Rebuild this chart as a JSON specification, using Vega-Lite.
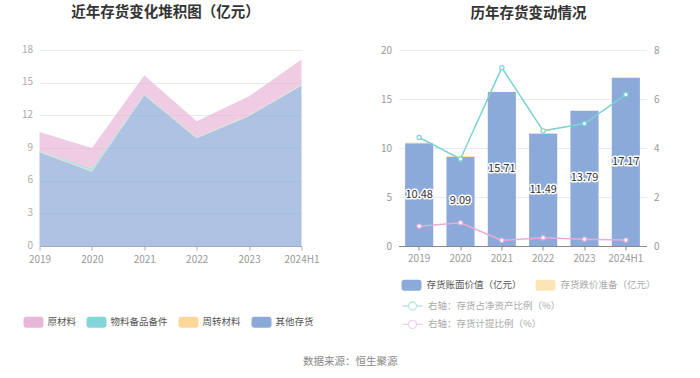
{
  "$schema": "https://vega.github.io/schema/vega-lite/v6.json",
  "background": "white",
  "padding": {"left": 20.5, "top": 4, "right": 5, "bottom": 4},
  "config": {
    "font": "Noto Sans CJK SC",
    "view": {"stroke": null},
    "axis": {"labelFont": "Noto Sans CJK SC", "labelFontSize": 10, "labelColor": "#999", "gridColor": "#e6ebf5", "domainColor": "#999", "tickColor": "#999", "title": null},
    "legend": {"labelFont": "Noto Sans CJK SC", "labelFontSize": 9.5, "labelColor": "#555", "padding": 0, "title": null},
    "title": {"font": "Noto Sans CJK SC", "fontSize": 14.5, "fontWeight": "bold", "color": "#333", "anchor": "middle", "offset": 24}
  },
  "datasets": {
    "stock": [
      {"year": "2019", "type": "原材料", "value": 1.78},
      {"year": "2019", "type": "物料备品备件", "value": 0.05},
      {"year": "2019", "type": "周转材料", "value": 0.05},
      {"year": "2019", "type": "其他存货", "value": 8.6},
      {"year": "2020", "type": "原材料", "value": 1.88},
      {"year": "2020", "type": "物料备品备件", "value": 0.22},
      {"year": "2020", "type": "周转材料", "value": 0.05},
      {"year": "2020", "type": "其他存货", "value": 6.85},
      {"year": "2021", "type": "原材料", "value": 1.72},
      {"year": "2021", "type": "物料备品备件", "value": 0.05},
      {"year": "2021", "type": "周转材料", "value": 0.05},
      {"year": "2021", "type": "其他存货", "value": 13.85},
      {"year": "2022", "type": "原材料", "value": 1.46},
      {"year": "2022", "type": "物料备品备件", "value": 0.04},
      {"year": "2022", "type": "周转材料", "value": 0.05},
      {"year": "2022", "type": "其他存货", "value": 9.9},
      {"year": "2023", "type": "原材料", "value": 1.72},
      {"year": "2023", "type": "物料备品备件", "value": 0.03},
      {"year": "2023", "type": "周转材料", "value": 0.05},
      {"year": "2023", "type": "其他存货", "value": 11.95},
      {"year": "2024H1", "type": "原材料", "value": 2.3},
      {"year": "2024H1", "type": "物料备品备件", "value": 0.03},
      {"year": "2024H1", "type": "周转材料", "value": 0.05},
      {"year": "2024H1", "type": "其他存货", "value": 14.75}
    ],
    "bars": [
      {"year": "2019", "type": "存货账面价值（亿元）", "value": 10.48},
      {"year": "2019", "type": "存货跌价准备（亿元）", "value": 0.086},
      {"year": "2020", "type": "存货账面价值（亿元）", "value": 9.09},
      {"year": "2020", "type": "存货跌价准备（亿元）", "value": 0.087},
      {"year": "2021", "type": "存货账面价值（亿元）", "value": 15.71},
      {"year": "2021", "type": "存货跌价准备（亿元）", "value": 0.036},
      {"year": "2022", "type": "存货账面价值（亿元）", "value": 11.49},
      {"year": "2022", "type": "存货跌价准备（亿元）", "value": 0.039},
      {"year": "2023", "type": "存货账面价值（亿元）", "value": 13.79},
      {"year": "2023", "type": "存货跌价准备（亿元）", "value": 0.039},
      {"year": "2024H1", "type": "存货账面价值（亿元）", "value": 17.17},
      {"year": "2024H1", "type": "存货跌价准备（亿元）", "value": 0.041}
    ],
    "lines": [
      {"year": "2019", "series": "右轴：存货占净资产比例（%）", "pct": 4.43},
      {"year": "2020", "series": "右轴：存货占净资产比例（%）", "pct": 3.55},
      {"year": "2021", "series": "右轴：存货占净资产比例（%）", "pct": 7.28},
      {"year": "2022", "series": "右轴：存货占净资产比例（%）", "pct": 4.7},
      {"year": "2023", "series": "右轴：存货占净资产比例（%）", "pct": 5.0},
      {"year": "2024H1", "series": "右轴：存货占净资产比例（%）", "pct": 6.18},
      {"year": "2019", "series": "右轴：存货计提比例（%）", "pct": 0.81},
      {"year": "2020", "series": "右轴：存货计提比例（%）", "pct": 0.95},
      {"year": "2021", "series": "右轴：存货计提比例（%）", "pct": 0.23},
      {"year": "2022", "series": "右轴：存货计提比例（%）", "pct": 0.34},
      {"year": "2023", "series": "右轴：存货计提比例（%）", "pct": 0.28},
      {"year": "2024H1", "series": "右轴：存货计提比例（%）", "pct": 0.24}
    ]
  },
  "title": {"text": "数据来源：恒生聚源", "orient": "bottom", "anchor": "middle", "fontSize": 10.5, "fontWeight": "normal", "color": "#888", "offset": 26, "dx": 10},
  "spacing": 97,
  "bounds": "flush",
  "hconcat": [
    {
      "width": 262,
      "height": 196,
      "title": {"text": "近年存货变化堆积图（亿元）", "dx": -5},
      "data": {"name": "stock"},
      "transform": [{"calculate": "indexof(['其他存货','周转材料','物料备品备件','原材料'], datum.type)", "as": "stackOrder"}],
      "mark": {"type": "area", "opacity": 0.7},
      "encoding": {
        "x": {"field": "year", "type": "ordinal", "scale": {"type": "point", "padding": 0},
              "axis": {"labelAngle": 0, "tickSize": 4, "domainColor": "#a3aabb", "tickColor": "#a3aabb", "labelPadding": 4}},
        "y": {"field": "value", "type": "quantitative", "stack": "zero", "scale": {"domain": [0, 18]},
              "axis": {"values": [0, 3, 6, 9, 12, 15, 18], "domain": false, "ticks": false, "labelPadding": 7, "labelOffset": -1, "grid": true, "labelColor": "#aaa"}},
        "color": {"field": "type", "type": "nominal",
                  "scale": {"domain": ["原材料", "物料备品备件", "周转材料", "其他存货"], "range": ["#e8b6d8", "#80d6d8", "#fdd797", "#8caad9"]},
                  "legend": {"orient": "none", "legendX": -16, "legendY": 262, "direction": "horizontal", "symbolType": "M-0.7,-0.55L0.7,-0.55Q1,-0.55,1,-0.25L1,0.25Q1,0.55,0.7,0.55L-0.7,0.55Q-1,0.55,-1,0.25L-1,-0.25Q-1,-0.55,-0.7,-0.55Z", "symbolSize": 400, "symbolStrokeWidth": 0, "symbolOpacity": 1, "labelOffset": 4, "columnPadding": 10}},
        "order": {"field": "stackOrder", "type": "quantitative"}
      }
    },
    {
      "width": 248,
      "height": 196,
      "title": {"text": "历年存货变动情况", "dx": 6},
      "layer": [
        {
          "data": {"name": "bars"},
          "layer": [
            {
              "mark": {"type": "bar"},
              "encoding": {
                "x": {"field": "year", "type": "ordinal", "scale": {"paddingInner": 0.32, "paddingOuter": 0.16},
                      "axis": {"labelAngle": 0, "tickSize": 4, "domainColor": "#888", "tickColor": "#888", "labelPadding": 3}},
                "y": {"field": "value", "type": "quantitative", "stack": "zero", "scale": {"domain": [0, 20]},
                      "axis": {"values": [0, 5, 10, 15, 20], "domain": false, "ticks": false, "labelPadding": 7, "grid": true}},
                "color": {"field": "type", "type": "nominal",
                          "scale": {"domain": ["存货账面价值（亿元）", "存货跌价准备（亿元）"], "range": ["#8caad9", "#fde4b5"]},
                          "legend": {"orient": "none", "legendX": 3, "legendY": 225, "direction": "horizontal", "columns": 2, "symbolType": "M-0.7,-0.55L0.7,-0.55Q1,-0.55,1,-0.25L1,0.25Q1,0.55,0.7,0.55L-0.7,0.55Q-1,0.55,-1,0.25L-1,-0.25Q-1,-0.55,-0.7,-0.55Z", "symbolSize": 400, "symbolStrokeWidth": 0, "labelOffset": 5, "columnPadding": 13,
                                     "encode": {"labels": {"update": {"fill": {"signal": "datum.value === '存货账面价值（亿元）' ? '#555' : '#aaa'"}}}}}},
                "order": {"field": "type", "sort": "ascending"}
              }
            },
            {
              "transform": [{"filter": "datum.type === '存货账面价值（亿元）'"}],
              "mark": {"type": "text", "fontSize": 11, "fill": "white", "stroke": "white", "strokeWidth": 3, "strokeJoin": "round"},
              "encoding": {
                "x": {"field": "year", "type": "ordinal"},
                "y": {"field": "value", "type": "quantitative", "stack": "zero", "bandPosition": 0.5, "scale": {"domain": [0, 20]},
                      "axis": {"values": [0, 5, 10, 15, 20], "domain": false, "ticks": false, "labelPadding": 7, "grid": true}},
                "text": {"field": "value", "type": "quantitative", "format": ".2f"}
              }
            },
            {
              "transform": [{"filter": "datum.type === '存货账面价值（亿元）'"}],
              "mark": {"type": "text", "fontSize": 11, "fill": "#333"},
              "encoding": {
                "x": {"field": "year", "type": "ordinal"},
                "y": {"field": "value", "type": "quantitative", "stack": "zero", "bandPosition": 0.5, "scale": {"domain": [0, 20]},
                      "axis": {"values": [0, 5, 10, 15, 20], "domain": false, "ticks": false, "labelPadding": 7, "grid": true}},
                "text": {"field": "value", "type": "quantitative", "format": ".2f"}
              }
            }
          ]
        },
        {
          "data": {"name": "lines"},
          "mark": {"type": "line", "strokeWidth": 1.5, "point": {"filled": false, "fill": "white", "size": 18, "strokeWidth": 1.2}},
          "encoding": {
            "x": {"field": "year", "type": "ordinal"},
            "y": {"field": "pct", "type": "quantitative", "scale": {"domain": [0, 8]},
                  "axis": {"orient": "right", "values": [0, 2, 4, 6, 8], "domain": false, "ticks": false, "labelPadding": 7, "grid": false}},
            "color": {"field": "series", "type": "nominal",
                      "scale": {"domain": ["右轴：存货占净资产比例（%）", "右轴：存货计提比例（%）"], "range": ["#7dd3d3", "#e8acd8"]},
                      "legend": {"orient": "none", "legendX": 5, "legendY": 247, "direction": "vertical", "symbolType": "M-1.25,0L-0.5,0M0.5,0L1.25,0M0.5,0A0.5,0.5,0,1,1,-0.5,0A0.5,0.5,0,1,1,0.5,0", "symbolSize": 256, "symbolStrokeWidth": 1.3, "symbolFillColor": "white", "symbolOpacity": 0.55, "labelOffset": 6.5, "rowPadding": 2.4, "labelColor": "#aaa"}}
          }
        }
      ],
      "resolve": {"scale": {"y": "independent", "color": "independent"}}
    }
  ]
}
